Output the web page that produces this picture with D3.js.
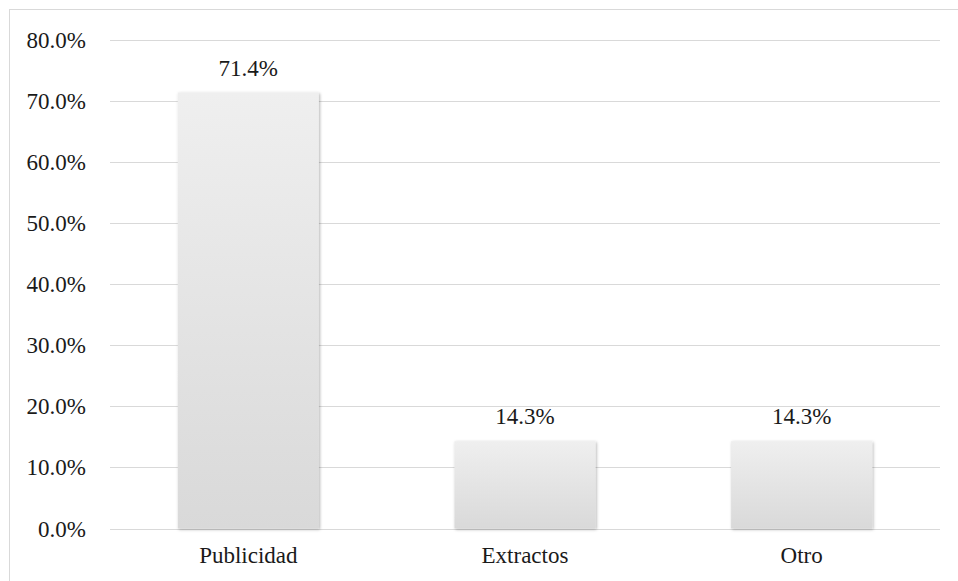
<!DOCTYPE html>
<html>
<head>
<meta charset="utf-8">
<script src="https://cdn.jsdelivr.net/npm/d3@7"></script>
<style>
html,body{margin:0;padding:0;background:#fff;}
svg{display:block;}
</style>
</head>
<body>
<svg id="chart" width="958" height="581"></svg>
<script>
const categories = ["Publicidad", "Extractos", "Otro"];
const values = [71.4, 14.3, 14.3];
const tickValues = [0, 10, 20, 30, 40, 50, 60, 70, 80];

const FONT = "'Liberation Serif', 'Times New Roman', serif";
const FS = "23px";
const svg = d3.select("#chart");
const plot = {left: 110, right: 940, top: 40, bottom: 528.5};

svg.append("rect").attr("x", 9.5).attr("y", 9.5).attr("width", 960).attr("height", 600)
  .attr("fill", "none").attr("stroke", "#d9d9d9").attr("stroke-width", 1);

const defs = svg.append("defs");
const grad = defs.append("linearGradient").attr("id", "barGrad")
  .attr("x1", 0).attr("y1", 0).attr("x2", 0).attr("y2", 1);
grad.append("stop").attr("offset", "0%").attr("stop-color", "#efefef");
grad.append("stop").attr("offset", "100%").attr("stop-color", "#d9d9d9");
const filt = defs.append("filter").attr("id", "shadow")
  .attr("x", "-20%").attr("y", "-20%").attr("width", "140%").attr("height", "140%");
filt.append("feDropShadow").attr("dx", 1).attr("dy", 1).attr("stdDeviation", 1.6)
  .attr("flood-color", "#000").attr("flood-opacity", 0.3);

const x = d3.scaleBand().domain(categories).range([plot.left, plot.right]).paddingInner(0.49).paddingOuter(0.245);
const y = d3.scaleLinear().domain([0, 80]).range([plot.bottom, plot.top]);

svg.append("g").selectAll("line").data(tickValues).join("line")
  .attr("x1", plot.left).attr("x2", plot.right)
  .attr("y1", d => Math.round(y(d)) + 0.5).attr("y2", d => Math.round(y(d)) + 0.5)
  .attr("stroke", "#d9d9d9").attr("stroke-width", 1);

svg.append("g").selectAll("text").data(tickValues).join("text")
  .attr("x", 86).attr("y", d => y(d) + 8)
  .attr("text-anchor", "end").style("font-size", FS)
  .style("font-family", FONT).attr("fill", "#1a1a1a")
  .text(d => d.toFixed(1) + "%");

svg.append("g").selectAll("rect").data(values).join("rect")
  .attr("x", (d, i) => x(categories[i]))
  .attr("y", d => y(d))
  .attr("width", x.bandwidth())
  .attr("height", d => y(0) - y(d))
  .attr("fill", "url(#barGrad)")
  .attr("filter", "url(#shadow)");

svg.append("g").selectAll("text").data(values).join("text")
  .attr("x", (d, i) => x(categories[i]) + x.bandwidth() / 2)
  .attr("y", d => y(d) - 17)
  .attr("text-anchor", "middle").style("font-size", FS)
  .style("font-family", FONT).attr("fill", "#1a1a1a")
  .text(d => d.toFixed(1) + "%");

svg.append("g").selectAll("text").data(categories).join("text")
  .attr("x", d => x(d) + x.bandwidth() / 2)
  .attr("y", plot.bottom + 34.5)
  .attr("text-anchor", "middle").style("font-size", FS)
  .style("font-family", FONT).attr("fill", "#1a1a1a")
  .text(d => d);
</script>
</body>
</html>
